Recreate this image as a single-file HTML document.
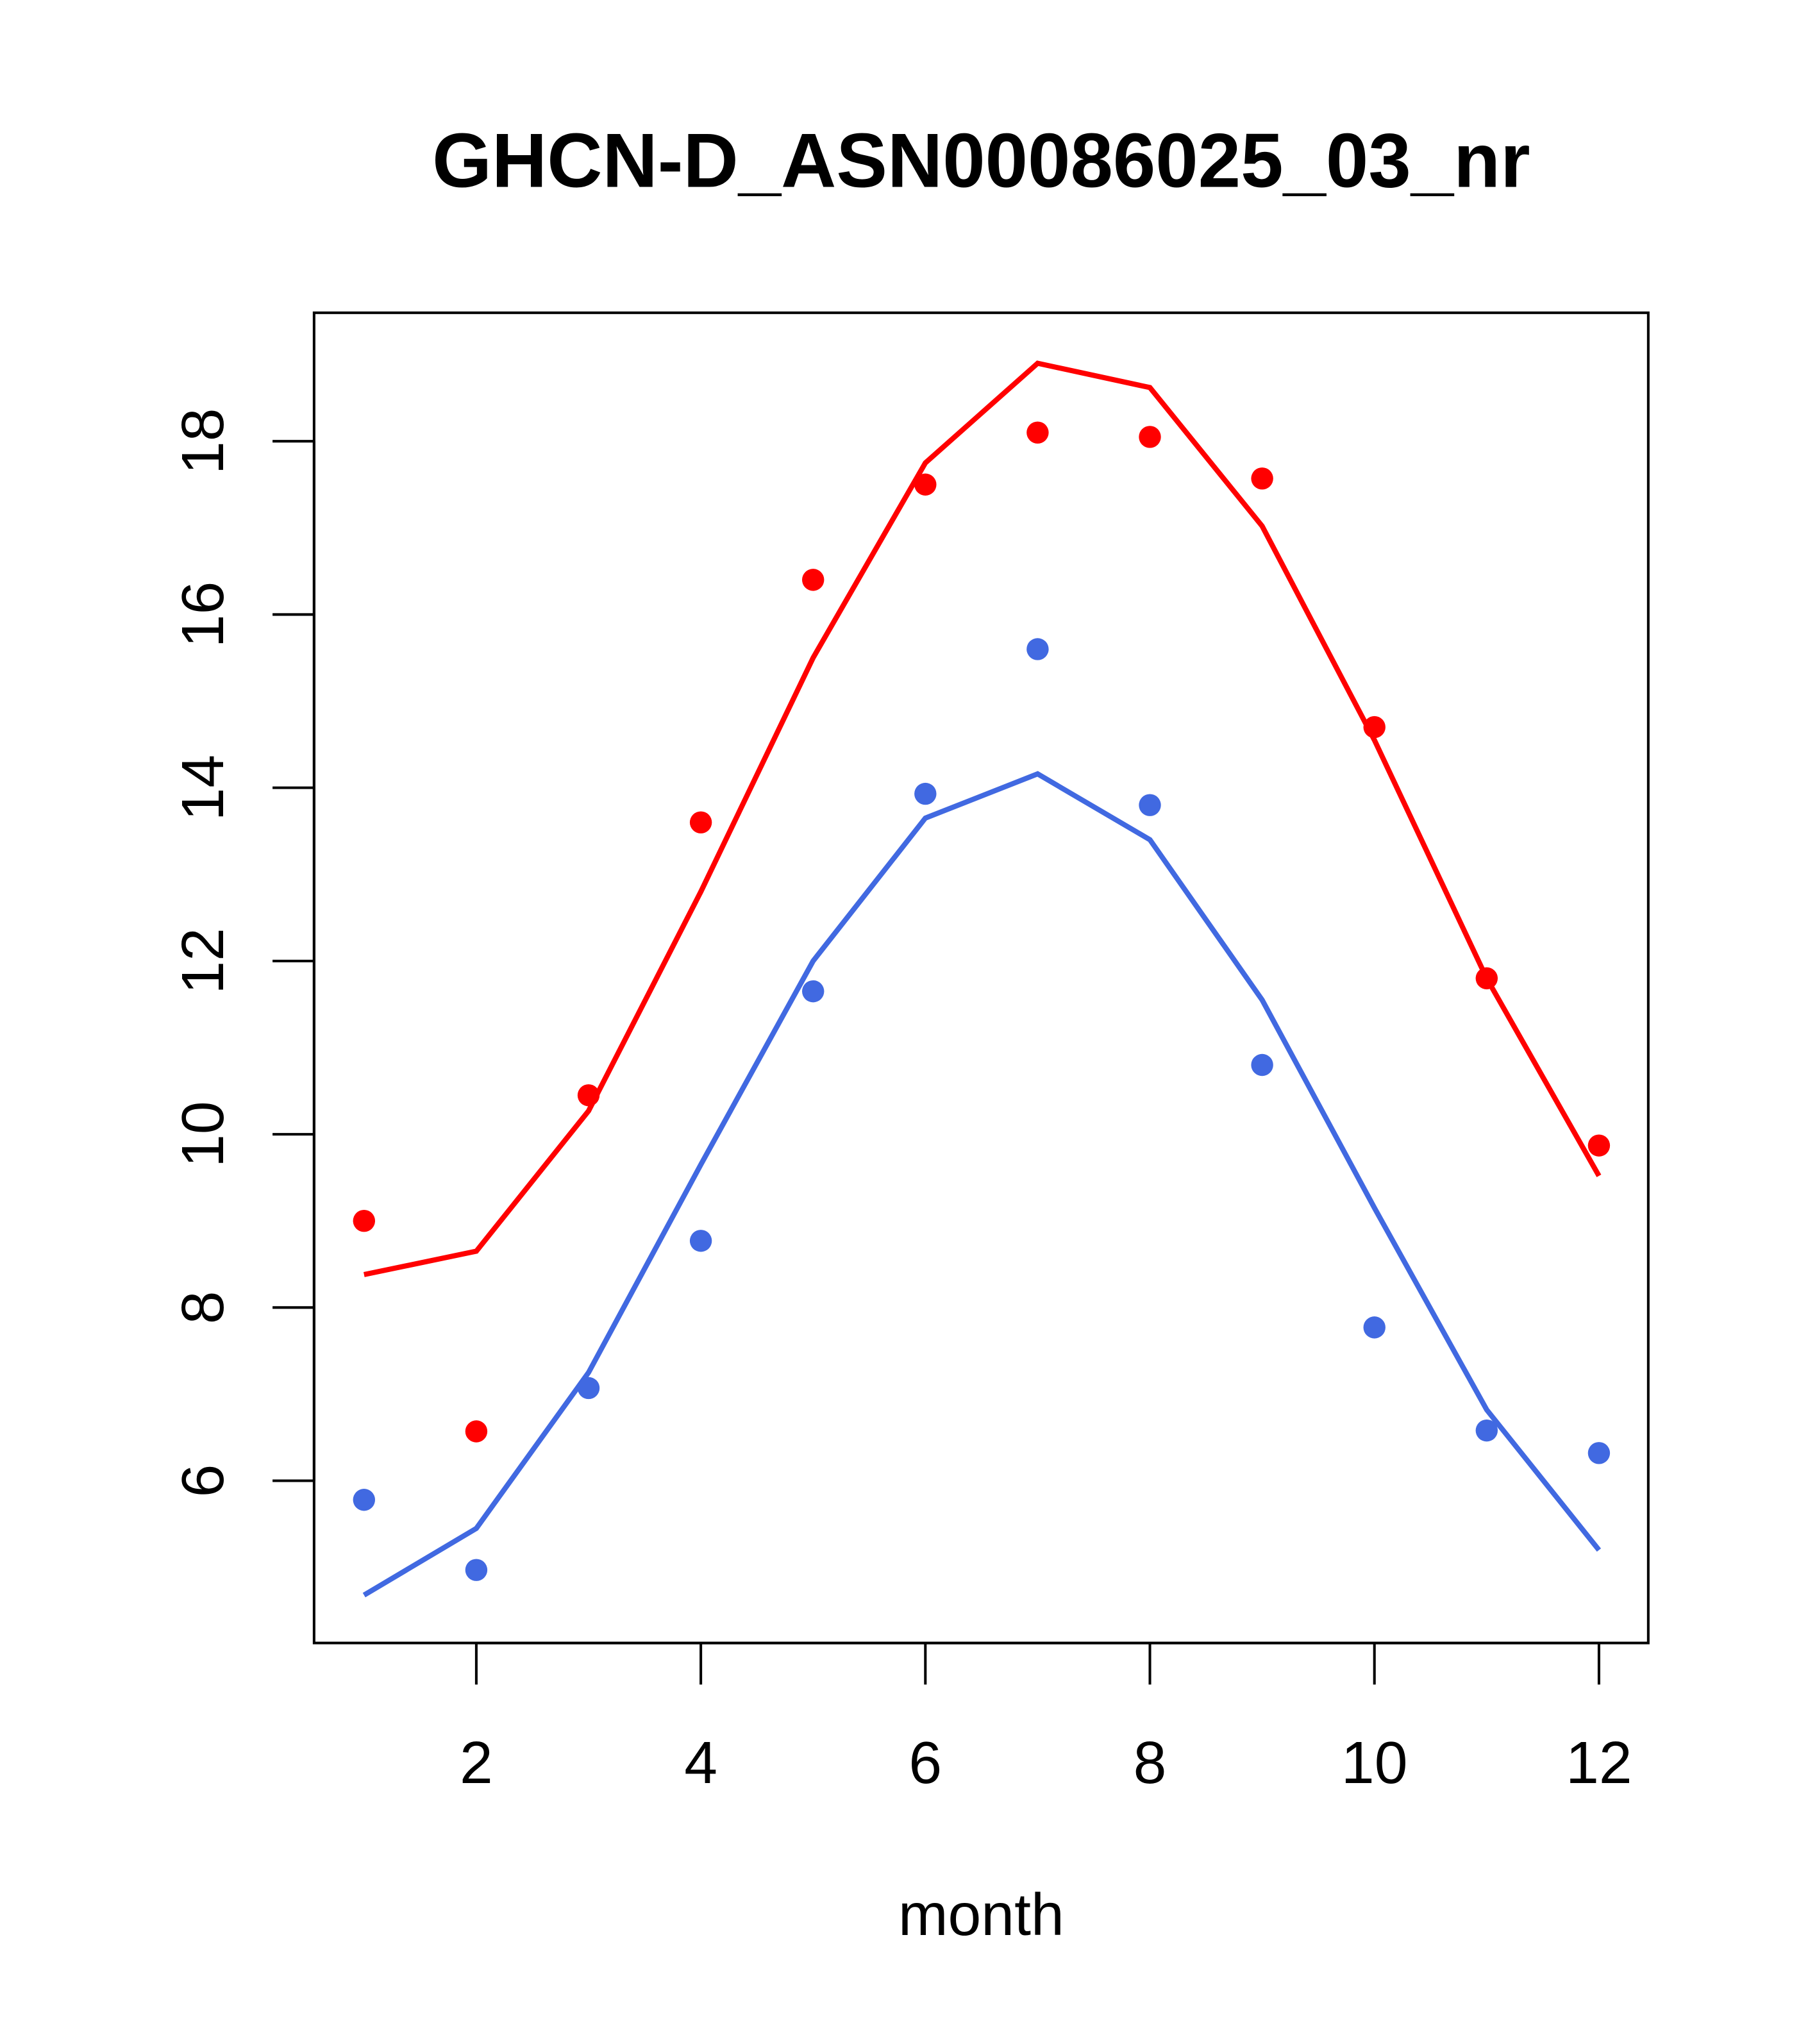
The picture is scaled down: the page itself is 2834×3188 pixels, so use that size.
<!DOCTYPE html>
<html><head><meta charset="utf-8"><style>html,body{margin:0;padding:0;background:#fff}svg{display:block}text{font-family:"Liberation Sans",sans-serif}</style></head>
<body>
<svg id="chart" width="2834" height="3188" viewBox="0 0 1400 1575" preserveAspectRatio="none" xmlns="http://www.w3.org/2000/svg">
<rect width="1400" height="1575" fill="#fff"/>
<text x="756" y="144" text-anchor="middle" font-size="59" font-weight="bold">GHCN-D_ASN00086025_03_nr</text>
<rect x="242" y="241" width="1028" height="1025" fill="none" stroke="#000" stroke-width="2"/>
<text x="756" y="1491" text-anchor="middle" font-size="46">month</text>
<g id="xaxis"></g>
<g id="yaxis"></g>
<g id="marks"></g>
</svg>
<script>
const months=[1,2,3,4,5,6,7,8,9,10,11,12];
const xTicks=[2,4,6,8,10,12];
const yTicks=[6,8,10,12,14,16,18];
const redPoints=[9.0,6.57,10.45,13.6,16.4,17.5,18.1,18.05,17.57,14.7,11.8,9.87];
const redLine=[8.38,8.65,10.27,12.8,15.5,17.75,18.9,18.62,17.02,14.55,11.8,9.52];
const bluePoints=[5.78,4.97,7.07,8.77,11.65,13.93,15.6,13.8,10.8,7.77,6.58,6.32];
const blueLine=[4.68,5.45,7.25,9.65,12.0,13.65,14.16,13.4,11.55,9.15,6.82,5.2];
const NS="http://www.w3.org/2000/svg";
const xs=m=>367+(m-2)*86.5;
const ys=v=>1141-(v-6)*66.75;
function mk(tag,attrs,parent){const e=document.createElementNS(NS,tag);for(const k in attrs)e.setAttribute(k,attrs[k]);parent.appendChild(e);return e;}
const xa=document.getElementById('xaxis'),ya=document.getElementById('yaxis'),mg=document.getElementById('marks');
mk('line',{x1:xs(xTicks[0]),x2:xs(xTicks[xTicks.length-1]),y1:1266,y2:1266,stroke:'#000','stroke-width':2},xa);
xTicks.forEach(t=>{
  const l=mk('line',{x1:xs(t),x2:xs(t),y1:1266,y2:1298,stroke:'#000','stroke-width':2},xa);
  
  
  const tx=mk('text',{x:xs(t),y:1374,'text-anchor':'middle','font-size':46},xa);tx.textContent=t;
  
  
});
mk('line',{x1:242,x2:242,y1:ys(yTicks[0]),y2:ys(yTicks[yTicks.length-1]),stroke:'#000','stroke-width':2},ya);
yTicks.forEach(t=>{
  const l=mk('line',{x1:210,x2:242,y1:ys(t),y2:ys(t),stroke:'#000','stroke-width':2},ya);
  
  
  const tx=mk('text',{x:0,y:0,'text-anchor':'middle','font-size':46,transform:`translate(172,${ys(t)}) rotate(-90)`},ya);tx.textContent=t;
  
  
});
function series(pts,line,color,name){
  const p=mk('polyline',{points:months.map((m,i)=>xs(m)+','+ys(line[i])).join(' '),fill:'none',stroke:color,'stroke-width':4},mg);
  
  
  months.forEach((m,i)=>{
    const c=mk('circle',{cx:xs(m),cy:ys(pts[i]),r:8.5,fill:color},mg);
    
    
  });
}
series(redPoints,redLine,'#ff0000','red');
series(bluePoints,blueLine,'#4169e1','blue');
</script>
</body></html>
